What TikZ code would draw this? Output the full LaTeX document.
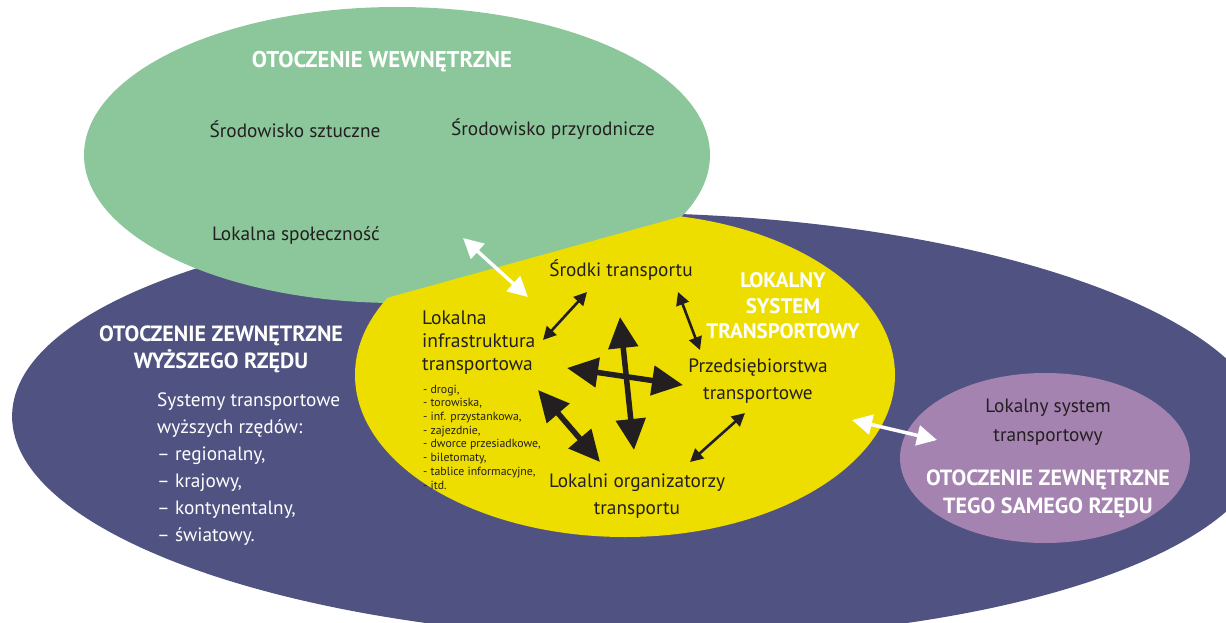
\documentclass[tikz,border=0pt]{standalone}
\usepackage{fontspec}
\setmainfont{PT Sans}
\usetikzlibrary{arrows.meta}
\definecolor{outerblue}{HTML}{505282}
\definecolor{innergreen}{HTML}{8BC79A}
\definecolor{localyellow}{HTML}{EDDE00}
\definecolor{samepurple}{HTML}{A583B1}
\definecolor{ink}{HTML}{231F20}
\tikzset{
  body/.style={text=ink, inner sep=0pt, font=\fontsize{19.3}{27}\selectfont},
  heading/.style={text=white, inner sep=0pt, align=center, font=\bfseries\fontsize{22}{27}\selectfont},
  thinarrow/.style={{Triangle[length=13pt,width=13pt]}-{Triangle[length=13pt,width=13pt]}, line width=2.6pt, draw=ink, fill=ink},
  thickarrow/.style={{Triangle[length=31pt,width=29pt]}-{Triangle[length=31pt,width=29pt]}, line width=5.5pt, draw=ink, fill=ink},
  whitearrow/.style={{Triangle[length=20pt,width=20pt]}-{Triangle[length=20pt,width=20pt]}, line width=3.5pt, white},
}
\begin{document}
\begin{tikzpicture}[x=1pt,y=-1pt]
  \useasboundingbox (0,0) rectangle (1226,623);
  \clip (0,0) rectangle (1226,623);

  % the four surroundings
  \fill[outerblue, rotate around={-1:(640,426)}] (640,426) ellipse [x radius=628pt, y radius=213pt];
  \fill[innergreen] (397,155) ellipse [x radius=313pt, y radius=148pt];
  \begin{scope}
    \clip (300,322) -- (950,142) -- (950,600) -- (300,600) -- cycle;
    \fill[localyellow] (625,375) ellipse [x radius=270pt, y radius=162pt];
  \end{scope}
  \fill[samepurple] (1045,458) ellipse [x radius=145pt, y radius=85pt];

  % otoczenie wewnetrzne
  \node[heading, font=\bfseries\fontsize{22.8}{27}\selectfont] (wew) at (382,62) {OTOCZENIE WEWNĘTRZNE};
  \node[body] (sztuczne) at (295,129) {Środowisko sztuczne};
  \node[body] (przyroda) at (553,129) {Środowisko przyrodnicze};
  \node[body] (spolecznosc) at (296,235) {Lokalna społeczność};

  % otoczenie wyzszego rzedu
  \node[heading] (wyzsze) at (221,349) {OTOCZENIE ZEWNĘTRZNE\\WYŻSZEGO RZĘDU};
  \node[body, text=white, align=left, anchor=west] (systemy) at (157,469)
    {Systemy transportowe\\wyższych rzędów:\\– regionalny,\\– krajowy,\\– kontynentalny,\\– światowy.};

  % lokalny system
  \node[heading, font=\bfseries\fontsize{21}{25.5}\selectfont] (lokalny) at (783,306) {LOKALNY\\SYSTEM\\TRANSPORTOWY};
  \node[body] (srodki) at (621,270) {Środki transportu};
  \node[body, align=left, anchor=west, font=\fontsize{19.5}{23}\selectfont] (infra) at (422,343)
    {Lokalna\\infrastruktura\\transportowa};
  \node[body, align=left, anchor=west, font=\fontsize{11.8}{13.7}\selectfont] (elementy) at (423,437)
    {- drogi,\\- torowiska,\\- inf. przystankowa,\\- zajezdnie,\\- dworce przesiadkowe,\\- biletomaty,\\- tablice informacyjne,\\- itd.};
  \node[body, align=center] (firmy) at (758,381) {Przedsiębiorstwa\\transportowe};
  \node[body, align=center] (organizatorzy) at (637,496) {Lokalni organizatorzy\\transportu};

  % otoczenie tego samego rzedu
  \node[body, align=center, font=\fontsize{19.3}{29}\selectfont] (sasiedni) at (1048,422) {Lokalny system\\transportowy};
  \node[heading, font=\bfseries\fontsize{22}{28}\selectfont] (same) at (1048,494) {OTOCZENIE ZEWNĘTRZNE\\TEGO SAMEGO RZĘDU};

  % arrow ends
  \coordinate (st1) at (587,292);
  \coordinate (li1) at (543,340);
  \coordinate (st2) at (678,292);
  \coordinate (pt1) at (700,350);
  \coordinate (pt2) at (745,413);
  \coordinate (lo1) at (690,462);
  \coordinate (li2) at (538,390);
  \coordinate (lo2) at (600,462);
  \coordinate (vtop) at (620,317);
  \coordinate (vbot) at (634,450);
  \coordinate (hl) at (567,368);
  \coordinate (hr) at (683,385);
  \coordinate (ls) at (463,238);
  \coordinate (ly) at (528,297);
  \coordinate (ry) at (852,420);
  \coordinate (rp) at (937,440);

  \draw[thinarrow] (st1) -- (li1);
  \draw[thinarrow] (st2) -- (pt1);
  \draw[thinarrow] (pt2) -- (lo1);
  \draw[thickarrow] (li2) -- (lo2);
  \draw[thickarrow] (vtop) -- (vbot);
  \draw[thickarrow] (hl) -- (hr);
  \draw[whitearrow] (ls) -- (ly);
  \draw[whitearrow] (ry) -- (rp);
\end{tikzpicture}
\end{document}
